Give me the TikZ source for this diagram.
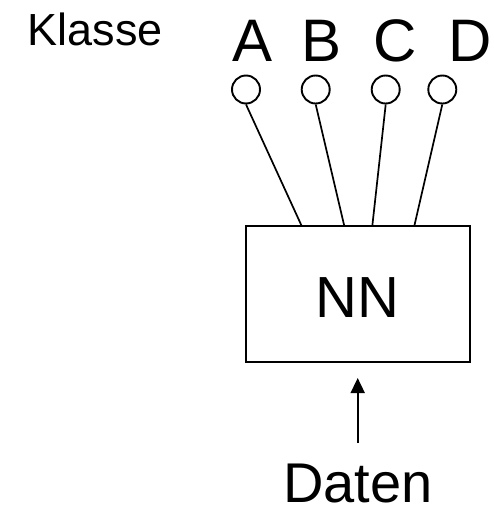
\documentclass[tikz,border=0pt]{standalone}
\usepackage{fontspec}
\setmainfont{Liberation Sans}
\usetikzlibrary{arrows.meta}
\begin{document}
\begin{tikzpicture}[x=1pt,y=-1pt,
  label/.style={inner sep=0pt,anchor=base},
  outnode/.style={circle,draw,line width=1.9pt,minimum size=28pt,inner sep=0pt},
  link/.style={line width=1.7pt},
  netbox/.style={rectangle,draw,line width=2.4pt,minimum width=224pt,minimum height=136pt,inner sep=0pt}]
\useasboundingbox (0,0) rectangle (493,506);
% class label and the four output classes
\node[label,font=\fontsize{45}{45}\selectfont] (klasse) at (95.5,45) {Klasse};
\node[label,font=\fontsize{60}{60}\selectfont] (la) at (253,61) {A};
\node[label,font=\fontsize{60}{60}\selectfont] (lb) at (322,61) {B};
\node[label,font=\fontsize{60}{60}\selectfont] (lc) at (395,61) {C};
\node[label,font=\fontsize{60}{60}\selectfont] (ld) at (470.5,61) {D};
% output units
\node[outnode] (ca) at (246,89.5) {};
\node[outnode] (cb) at (315.7,89.5) {};
\node[outnode] (cc) at (385.7,89.5) {};
\node[outnode] (cd) at (442.3,89.5) {};
% the network
\node[netbox] (nn) at (358,294) {};
\node[label,font=\fontsize{58}{58}\selectfont] (nnt) at (357.5,317.7) {NN};
% attachment points on the top edge of the box
\coordinate (pa) at (301.7,226);
\coordinate (pb) at (344.3,226);
\coordinate (pc) at (372.3,226);
\coordinate (pd) at (414.3,226);
\draw[link] (ca.south) -- (pa);
\draw[link] (cb.south) -- (pb);
\draw[link] (cc.south) -- (pc);
\draw[link] (cd.south) -- (pd);
% input
\node[label,font=\fontsize{56}{56}\selectfont] (daten) at (358,502) {Daten};
\coordinate (in0) at (357.7,443);
\coordinate (in1) at (357.7,378);
\draw[link,-{Triangle[length=15pt,width=14pt]}] (in0) -- (in1);
\end{tikzpicture}
\end{document}
